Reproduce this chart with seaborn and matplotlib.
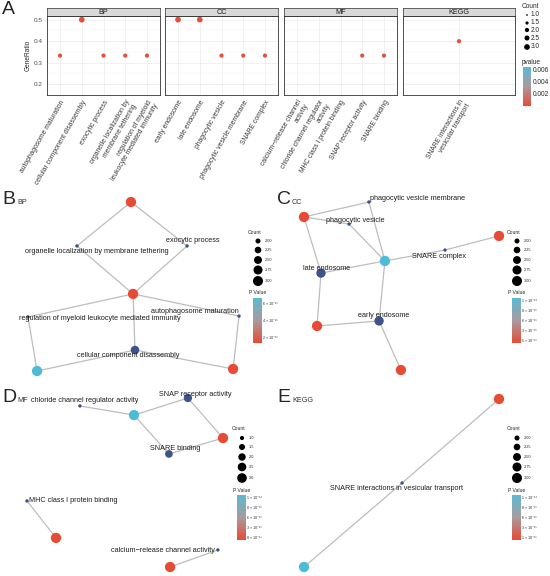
import numpy as np
import pandas as pd
import matplotlib
matplotlib.use("Agg")
import matplotlib.pyplot as plt
import seaborn as sns
from matplotlib.colors import LinearSegmentedColormap, Normalize
from matplotlib.cm import ScalarMappable

# ---- panel A: dot plot data ----
bp_terms = ["autophagosome maturation", "cellular component disassembly", "exocytic process",
            "organelle localization by\nmembrane tethering",
            "regulation of myeloid\nleukocyte mediated immunity"]
bp_ratio = [0.333, 0.5, 0.333, 0.333, 0.333]
bp_count = [2, 3, 2, 2, 2]
bp_pvalue = [0.0004, 0.0002, 0.0004, 0.0004, 0.0004]

cc_terms = ["early endosome", "late endosome", "phagocytic vesicle",
            "phagocytic vesicle membrane", "SNARE complex"]
cc_ratio = [0.5, 0.5, 0.333, 0.333, 0.333]
cc_count = [3, 3, 2, 2, 2]
cc_pvalue = [0.0002, 0.0002, 0.0004, 0.0004, 0.0004]

mf_terms = ["calcium\u2212release channel\nactivity", "chloride channel regulator\nactivity",
            "MHC class I protein binding", "SNAP receptor activity", "SNARE binding"]
mf_ratio = [np.nan, np.nan, np.nan, 0.333, 0.333]
mf_count = [np.nan, np.nan, np.nan, 2, 2]
mf_pvalue = [np.nan, np.nan, np.nan, 0.0004, 0.0004]

kegg_terms = ["SNARE interactions in\nvesicular transport"]
kegg_ratio = [0.4]
kegg_count = [2]
kegg_pvalue = [0.0004]

# ---- network panels (layout coordinates 0..1) ----
b_labels = ["", "organelle localization by membrane tethering", "exocytic process", "",
            "regulation of myeloid leukocyte mediated immunity", "autophagosome maturation",
            "cellular component disassembly", "", ""]
b_x = [0.488, 0.232, 0.754, 0.498, 0.0, 1.0, 0.507, 0.043, 0.972]
b_y = [1.0, 0.740, 0.740, 0.456, 0.320, 0.325, 0.124, 0.0, 0.012]
b_kind = ["low", "term", "term", "low", "term", "term", "term", "high", "low"]
b_count = [3, 1, 1, 3, 1, 1, 2.3, 3, 3]
b_edges = [(0, 1), (0, 2), (1, 3), (2, 3), (3, 4), (3, 5), (3, 6), (4, 7), (6, 7), (6, 8), (5, 8)]

c_labels = ["", "phagocytic vesicle membrane", "phagocytic vesicle", "", "SNARE complex", "",
            "late endosome", "early endosome", "", ""]
c_x = [0.0, 0.333, 0.231, 0.415, 0.723, 1.0, 0.087, 0.385, 0.067, 0.497]
c_y = [0.911, 1.0, 0.869, 0.649, 0.714, 0.798, 0.577, 0.292, 0.262, 0.0]
c_kind = ["low", "term", "term", "high", "term", "low", "term", "term", "low", "low"]
c_count = [3, 1, 1, 3, 1, 3, 2.6, 2.6, 3, 3]
c_edges = [(0, 1), (0, 2), (0, 6), (1, 3), (2, 3), (3, 4), (4, 5), (3, 6), (3, 7), (6, 8), (8, 7), (7, 9)]

d_labels = ["chloride channel regulator activity", "", "SNAP receptor activity", "", "SNARE binding",
            "MHC class I protein binding", "", "calcium\u2212release channel activity", ""]
d_x = [0.270, 0.546, 0.821, 1.0, 0.724, 0.0, 0.148, 0.974, 0.730]
d_y = [0.953, 0.899, 1.0, 0.763, 0.669, 0.391, 0.172, 0.101, 0.0]
d_kind = ["term", "high", "term", "low", "term", "term", "low", "term", "low"]
d_count = [1, 3, 2.2, 3, 2, 1, 3, 1, 3]
d_edges = [(0, 1), (1, 2), (2, 3), (1, 4), (4, 3), (5, 6), (7, 8)]

e_labels = ["", "SNARE interactions in vesicular transport", ""]
e_x = [1.0, 0.503, 0.0]
e_y = [1.0, 0.5, 0.0]
e_kind = ["low", "term", "high"]
e_count = [3, 1, 3]
e_edges = [(0, 1), (1, 2)]

# legend tick texts
b_count_ticks = ["2.00", "2.25", "2.50", "2.75", "3.00"]
b_p_ticks = ["6 \u00d7 10\u207b\u00b9\u2075", "4 \u00d7 10\u207b\u00b9\u2075", "2 \u00d7 10\u207b\u00b9\u2075"]
c_p_ticks = ["1 \u00d7 10\u207b\u00b9\u2074", "8 \u00d7 10\u207b\u00b9\u2075", "6 \u00d7 10\u207b\u00b9\u2075",
             "3 \u00d7 10\u207b\u00b9\u2075", "5 \u00d7 10\u207b\u00b9\u2076"]
d_count_ticks = ["1.0", "1.5", "2.0", "2.5", "3.0"]
d_p_ticks = ["1 \u00d7 10\u207b\u00b9\u2074", "8 \u00d7 10\u207b\u00b9\u2075", "6 \u00d7 10\u207b\u00b9\u2075",
             "3 \u00d7 10\u207b\u00b9\u2075", "8 \u00d7 10\u207b\u00b9\u2076"]
e_p_ticks = ["1 \u00d7 10\u207b\u00b9\u2074", "8 \u00d7 10\u207b\u00b9\u2075", "6 \u00d7 10\u207b\u00b9\u2075",
             "3 \u00d7 10\u207b\u00b9\u2075", "1 \u00d7 10\u207b\u00b9\u2075"]

sns.set_style("white")
plt.rcParams["font.family"] = ["Liberation Sans", "DejaVu Sans"]

W, H = 550, 576
fig = plt.figure(figsize=(5.5, 5.76), dpi=100)

RED, CYAN, NAVY = "#E64B35", "#4DBBD5", "#3C5488"
pcmap = LinearSegmentedColormap.from_list("pv", [RED, "#A99A9E", "#5BBAD3"])
node_colors = {"low": RED, "high": CYAN, "term": NAVY}


def px_axes(x0, y0, x1, y1):
    return fig.add_axes([x0 / W, 1 - y1 / H, (x1 - x0) / W, (y1 - y0) / H])


# ---------------- panel A ----------------
facets = [
    ("BP", bp_terms, bp_ratio, bp_count, bp_pvalue, 47, 160),
    ("CC", cc_terms, cc_ratio, cc_count, cc_pvalue, 165, 278),
    ("MF", mf_terms, mf_ratio, mf_count, mf_pvalue, 284, 397),
    ("KEGG", kegg_terms, kegg_ratio, kegg_count, kegg_pvalue, 403, 515),
]
for k, (name, terms, ratio, count, pval, x0, x1) in enumerate(facets):
    ax = px_axes(x0, 16, x1, 95)
    df = pd.DataFrame({"pos": np.arange(len(terms)), "ratio": ratio, "count": count, "pvalue": pval})
    sns.scatterplot(data=df.dropna(), x="pos", y="ratio", size="count", sizes=(1.5, 17), size_norm=(1, 3),
                    hue="pvalue", hue_norm=(0, 0.0065), palette=pcmap, legend=False,
                    edgecolor="none", ax=ax, zorder=3)
    ax.set_xlim(-0.6, len(terms) - 0.4)
    ax.set_ylim(0.15, 0.517)
    ax.set_yticks([0.2, 0.3, 0.4, 0.5])
    ax.set_yticks([0.25, 0.35, 0.45], minor=True)
    ax.set_xticks(np.arange(len(terms)))
    ax.set_xticklabels(terms, rotation=60, ha="right", va="top", rotation_mode="anchor",
                       fontsize=4.9, color="#3A3A3A")
    ax.grid(True, which="major", color="#EBEBEB", lw=0.5)
    ax.grid(True, which="minor", axis="y", color="#F3F3F3", lw=0.3)
    ax.set_axisbelow(True)
    ax.tick_params(axis="both", which="major", length=1.8, width=0.5, color="#333333", pad=1)
    ax.tick_params(axis="y", which="minor", length=0)
    ax.tick_params(axis="y", labelsize=4.6, labelcolor="#4D4D4D")
    ax.set_xlabel("")
    if k == 0:
        ax.set_ylabel("GeneRatio", fontsize=4.7, labelpad=2)
    else:
        ax.set_ylabel("")
        ax.tick_params(axis="y", which="major", length=0, labelleft=False)
    for s in ax.spines.values():
        s.set_color("#333333")
        s.set_linewidth(0.6)
    strip = px_axes(x0, 8, x1, 16)
    strip.set_facecolor("#D9D9D9")
    strip.set_xticks([])
    strip.set_yticks([])
    for s in strip.spines.values():
        s.set_color("#333333")
        s.set_linewidth(0.5)
    strip.text(0.5, 0.45, name, ha="center", va="center", fontsize=5.2, color="#1A1A1A",
               transform=strip.transAxes)

# A legend
overlay = fig.add_axes([0, 0, 1, 1])
overlay.set_xlim(0, W)
overlay.set_ylim(H, 0)
overlay.axis("off")

a_leg_vals = [1.0, 1.5, 2.0, 2.5, 3.0]
a_leg = pd.DataFrame({"x": [527] * 5, "y": [15, 23, 30, 38, 47], "count": a_leg_vals})
overlay.text(522, 7, "Count", fontsize=4.7, va="center", ha="left")
sns.scatterplot(data=a_leg, x="x", y="y", size="count", sizes=(1.5, 17), size_norm=(1, 3),
                color="black", edgecolor="none", legend=False, ax=overlay)
for yy, v in zip(a_leg["y"], a_leg_vals):
    overlay.text(531, yy, f"{v:.1f}", fontsize=4.7, va="center", ha="left")
overlay.text(522, 62, "pvalue", fontsize=4.7, va="center", ha="left")
cax = px_axes(523, 67, 531, 106)
cb = fig.colorbar(ScalarMappable(Normalize(0, 0.0065), pcmap), cax=cax, ticks=[0.002, 0.004, 0.006])
cb.ax.set_yticklabels(["0.002", "0.004", "0.006"])
cb.ax.tick_params(labelsize=4.7, length=0, pad=1.5)
cb.outline.set_visible(False)


# ---------------- network panels ----------------
def draw_network(box, xs, ys, kinds, counts, edges, labels, offsets):
    ax = px_axes(*box)
    for i, j in edges:
        ax.plot([xs[i], xs[j]], [ys[i], ys[j]], color="#BDBDBD", lw=0.9, zorder=1,
                clip_on=False, solid_capstyle="round")
    df = pd.DataFrame({"x": xs, "y": ys, "kind": kinds, "count": counts})
    sns.scatterplot(data=df, x="x", y="y", hue="kind", palette=node_colors, size="count",
                    sizes=(6, 55), size_norm=(1, 3), legend=False, edgecolor="none",
                    ax=ax, clip_on=False, zorder=2)
    for x, y, lab, (dx, dy) in zip(xs, ys, labels, offsets):
        if lab:
            ax.annotate(lab, (x, y), xytext=(dx * 0.72, -dy * 0.72), textcoords="offset points",
                        ha="center", va="center", fontsize=5.2, color="#1E1E1E", zorder=3)
    ax.set_xlim(0, 1)
    ax.set_ylim(0, 1)
    ax.axis("off")


def net_legend(x, ytop, count_ticks, size_range, p_ticks):
    overlay.text(x - 5, ytop, "Count", fontsize=3.6, va="center", ha="left")
    ys = [ytop + 9, ytop + 18, ytop + 28, ytop + 38, ytop + 49]
    leg = pd.DataFrame({"x": [x + 5] * 5, "y": ys, "count": np.arange(5)})
    sns.scatterplot(data=leg, x="x", y="y", size="count", sizes=size_range, size_norm=(0, 4),
                    color="black", edgecolor="none", legend=False, ax=overlay)
    for yy, t in zip(ys, count_ticks):
        overlay.text(x + 12, yy, t, fontsize=2.8, va="center", ha="left")
    overlay.text(x - 4, ytop + 61, "P Value", fontsize=3.6, va="center", ha="left")
    cax = px_axes(x, ytop + 66, x + 9, ytop + 111)
    n = len(p_ticks)
    cb = fig.colorbar(ScalarMappable(Normalize(-0.3, n - 0.7), pcmap), cax=cax,
                      ticks=np.arange(n))
    cb.ax.set_yticklabels(p_ticks[::-1])
    cb.ax.tick_params(labelsize=2.6, length=0, pad=1)
    cb.outline.set_visible(False)


b_off = [(0, 0), (20, 6), (6, -5), (0, 0), (72, 2), (-44, -5), (-7, 5), (0, 0), (0, 0)]
c_off = [(0, 0), (49, -4), (6, -4), (0, 0), (-6, 6), (0, 0), (6, -5), (5, -5), (0, 0), (0, 0)]
d_off = [(5, -5), (0, 0), (7, -3), (0, 0), (6, -5), (46, 0), (0, 0), (-55, 1), (0, 0)]
e_off = [(0, 0), (-6, 6), (0, 0)]

draw_network((28, 202, 239, 371), b_x, b_y, b_kind, b_count, b_edges, b_labels, b_off)
draw_network((304, 202, 499, 370), c_x, c_y, c_kind, c_count, c_edges, c_labels, c_off)
draw_network((27, 398, 223, 567), d_x, d_y, d_kind, d_count, d_edges, d_labels, d_off)
draw_network((304, 399, 499, 567), e_x, e_y, e_kind, e_count, e_edges, e_labels, e_off)

net_legend(253, 232, b_count_ticks, (13, 52), b_p_ticks)
net_legend(512, 232, b_count_ticks, (13, 52), c_p_ticks)
net_legend(237, 429, d_count_ticks, (9, 48), d_p_ticks)
net_legend(512, 429, b_count_ticks, (13, 52), e_p_ticks)

# panel letters
for letter, sub, lx, ly in [("A", "", 2, 9), ("B", "BP", 2, 200), ("C", "CC", 277, 200),
                            ("D", "MF", 2, 398), ("E", "KEGG", 277, 398)]:
    overlay.text(lx, ly, letter, fontsize=14, va="center", ha="left")
    if sub:
        overlay.text(lx + 15, ly + 4, sub, fontsize=5.2, va="baseline", ha="left", color="#333333")

fig.savefig("out.png", dpi=100)
